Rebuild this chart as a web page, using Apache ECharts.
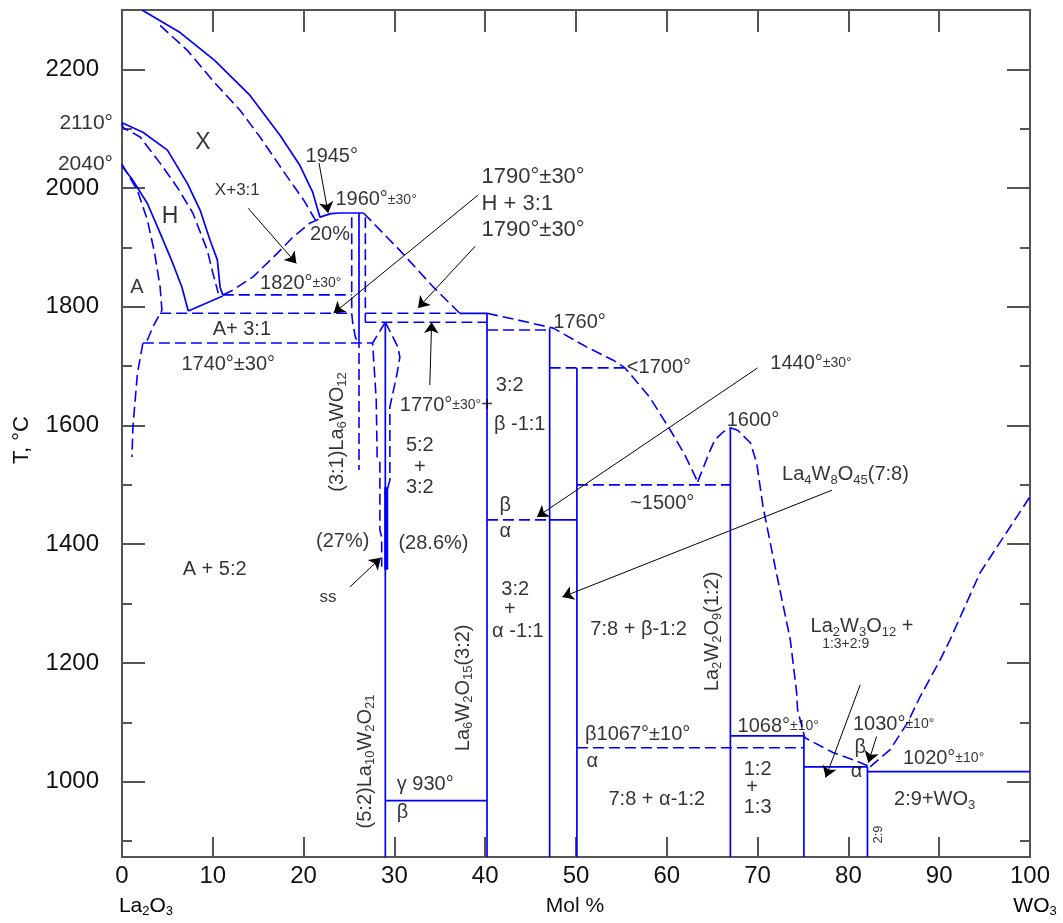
<!DOCTYPE html>
<html><head><meta charset="utf-8">
<script src="https://cdn.jsdelivr.net/npm/echarts@6/dist/echarts.min.js"></script>
<style>html,body{margin:0;padding:0;background:#fff}#c{width:1063px;height:923px}</style>
</head><body><div id="c"></div>
<script>
// ---------- axis ticks ----------
const xTicks = [0,10,20,30,40,50,60,70,80,90,100];
const yLabelTicks = [1000,1200,1400,1600,1800,2000,2200];
const yMinorTicks = [900,1100,1300,1500,1700,1900,2100];

// ---------- solid phase boundaries (mol % WO3, T °C) ----------
const xLiqSolid = [[2.2,2300],[6.4,2262],[10.2,2215],[14.1,2156],[17.4,2089],[19.6,2038],[21.0,1993],[21.8,1951],[23.0,1957],[24.0,1958],[26.6,1958]];
const hSolid2110 = [[0,2110],[0.1,2109],[2.3,2094],[5.0,2064],[7.2,2008],[8.6,1963],[9.7,1912],[10.5,1879],[10.8,1833],[11.1,1820]];
const hSolid2040 = [[0,2040],[0.1,2035],[1.2,2013],[2.8,1974],[4.2,1924],[5.6,1873],[6.6,1833],[7.3,1793]];
const hTie = [[7.3,1793],[11.1,1818]];
const c31Solid = [[26.1,1958],[26.1,1749]];
const c52Solid = [[29.0,1774],[29.0,873]];
const c32Solid = [[40.2,1789],[40.2,873]];
const line1790Solid = [[37.2,1789],[40.2,1789]];
const c11Solid = [[47.1,1764],[47.1,873]];
const c78Solid = [[50.1,1697],[50.1,873]];
const line1440Solid = [[47.1,1441],[50.1,1441]];
const line930 = [[29.0,968],[40.2,968]];
const c12Solid = [[67.0,1596],[67.0,873]];
const line1068 = [[67.0,1077],[75.1,1077]];
const c13Solid = [[75.1,1077],[75.1,873]];
const line1030 = [[75.1,1025],[82.1,1025]];
const c29Solid = [[82.1,1025],[82.1,873]];
const line1020 = [[82.1,1017],[100,1017]];
const ssThick = [[29.1,1496],[29.1,1357]];

// ---------- dashed phase boundaries ----------
const xLiqDashed = [[4.2,2274],[7.2,2232],[10.0,2181],[13.0,2131],[15.2,2086],[17.7,2030],[20.0,1980],[21.3,1946],[21.8,1951]];
const hDashed2110 = [[0,2110],[0.1,2102],[2.0,2086],[4.2,2042],[6.1,2001],[7.8,1958],[9.4,1895],[10.0,1857],[10.6,1823]];
const aDashed2040 = [[0,2040],[1.7,1996],[2.8,1946],[3.6,1890],[4.2,1833],[4.4,1794],[4.2,1789],[3.4,1766],[2.8,1744],[2.3,1739],[1.7,1688],[1.2,1597],[1.1,1547]];
const liq31Left = [[11.1,1820],[12.2,1828],[14.4,1850],[17.1,1890],[18.8,1917],[20.7,1941],[21.5,1946],[21.8,1951]];
const line1820 = [[11.1,1820],[25.3,1820]];
const line1790Left = [[4.2,1789],[25.3,1789]];
const line1740 = [[2.3,1739],[27.6,1739]];
const c31Lower = [[26.1,1749],[26.1,1525]];
const c31LeftBound = [[25.3,1951],[25.3,1789],[25.4,1774],[25.7,1749],[26.0,1739]];
const c31RightBound = [[26.8,1951],[26.8,1774]];
const line1790Right = [[26.8,1789],[37.2,1789]];
const line1770 = [[26.8,1774],[40.2,1774]];
const liq31Right = [[26.6,1958],[30.6,1895],[34.3,1833],[37.2,1789]];
const ss27 = [[29.0,1774],[27.6,1739],[28.0,1643],[28.1,1547],[28.4,1539],[28.4,1424],[28.6,1412],[28.6,1362]];
const ss52Right = [[29.0,1774],[29.8,1750],[30.4,1732],[30.6,1715],[30.3,1688],[29.5,1631],[29.5,1508],[29.2,1491]];
const liqMid = [[40.2,1789],[43.5,1778],[47.5,1764],[51.2,1732],[54.1,1710],[55.4,1697],[58.1,1648],[60.4,1592],[62.0,1550],[63.4,1505]];
const line1760 = [[40.2,1761],[47.1,1761]];
const line1700 = [[47.1,1697],[55.4,1697]];
const line1440Dashed = [[40.2,1441],[47.1,1441]];
const line1500 = [[50.1,1500],[67.0,1500]];
const liq12Left = [[63.4,1505],[64.8,1559],[65.3,1576],[66.2,1589],[67.0,1596]];
const liq12Right = [[67.0,1596],[67.8,1592],[69.2,1571],[69.9,1537],[70.6,1463],[71.7,1379],[73.6,1239],[74.3,1150],[74.4,1121],[75.2,1074],[78.3,1049],[80.5,1037],[82.4,1025]];
const line1067 = [[50.1,1057],[75.1,1057]];
const liqWO3 = [[82.4,1025],[82.7,1029],[84.6,1054],[86.5,1099],[87.9,1143],[90.1,1205],[91.2,1239],[94.5,1352],[100,1480]];

// ---------- arrows [x1,T1,x2,T2] ----------
const arrows = [
  [13.9,1966,19.2,1873],
  [21.7,2042,22.7,1958],
  [39.2,1988,23.3,1789],
  [38.9,1902,32.6,1798],
  [33.9,1668,34.1,1774],
  [70.0,1697,45.7,1446],
  [78.2,1491,48.5,1311],
  [25.1,1328,28.5,1377],
  [81.3,1163,77.5,1007],
  [83.1,1076,82.2,1032]
];

// ---------- text annotations [x, T, text] ----------
const labelsBig = [[8.9,2077,'X'],[5.3,1951,'H']];
const labelsMid = [
  [1.65,1833,'A'],[23.1,2054,'1945°'],[22.9,1922,'20%'],[13.2,1761,'A+ 3:1'],[11.7,1702,'1740°±30°'],
  [32.8,1567,'5:2'],[32.8,1530,'+'],[32.8,1495,'3:2'],
  [42.7,1668,'3:2'],[43.8,1601,'β -1:1'],[42.2,1466,'β'],[42.2,1421,'α'],
  [43.3,1323,'3:2'],[42.7,1290,'+'],[43.6,1253,'α -1:1'],
  [24.3,1404,'(27%)'],[34.3,1402,'(28.6%)'],[10.2,1357,'A + 5:2'],
  [59.5,1469,'~1500°'],[56.9,1256,'7:8 + β-1:2'],[81.5,1261,'La{sub|2}W{sub|3}O{sub|12} +'],
  [33.4,995,'γ 930°'],[30.9,948,'β'],[51.8,1034,'α'],[81.3,1057,'β'],[80.9,1017,'α'],
  [70.0,1020,'1:2'],[69.4,990,'+'],[70.0,956,'1:3'],[58.9,970,'7:8 + α-1:2'],[89.5,970,'2:9+WO{sub|3}']
];
const labelsSmall = [[12.7,1996,'X+3:1'],[22.7,1310,'ss']];
const labelsTiny = [[79.7,1231,'1:3+2:9']];
const labelsLeft = [
  [23.5,1980,'1960°{sm|±30°}'],[15.2,1840,'1820°{sm|±30°}'],
  [30.6,1634,'1770°{sm|±30°}+'],[47.5,1774,'1760°'],[55.6,1698,'<1700°'],
  [71.4,1705,'1440°{sm|±30°}'],[66.6,1609,'1600°'],[72.7,1517,'La{sub|4}W{sub|8}O{sub|45}(7:8)'],
  [51.0,1079,'β1067°±10°'],[67.8,1093,'1068°{sm|±10°}'],[80.5,1096,'1030°{sm|±10°}'],[86.0,1039,'1020°{sm|±10°}']
];
const labelsLeftBig = [[39.6,2018,'1790°±30°'],[39.6,1974,'H + 3:1'],[39.6,1929,'1790°±30°']];
const labelsVertical = [
  [23.7,1589,'(3:1)La{sub|6}WO{sub|12}'],
  [26.8,1034,'(5:2)La{sub|10}W{sub|2}O{sub|21}'],
  [37.6,1158,'La{sub|6}W{sub|2}O{sub|15}(3:2)'],
  [65.0,1253,'La{sub|2}W{sub|2}O{sub|9}(1:2)']
];
const labelsVerticalTiny = [[83.3,911,'2:9']];
const edgeLabels = [[0,2110,'2110°'],[0,2040,'2040°']];

// ---------- build chart ----------
const FONT = '"Liberation Sans", Arial, sans-serif';
const TXT = '#000';
const BLUE = '#0000ff';
const AX = '#555';
const rich = {
  sub: {fontSize: 13, lineHeight: 13, verticalAlign: 'bottom', fontFamily: FONT, color: TXT},
  sm: {fontSize: 14, lineHeight: 14, verticalAlign: 'middle', fontFamily: FONT, color: TXT}
};

const solidSet = [xLiqSolid,hSolid2110,hSolid2040,hTie,c31Solid,c52Solid,c32Solid,line1790Solid,c11Solid,c78Solid,line1440Solid,line930,c12Solid,line1068,c13Solid,line1030,c29Solid,line1020];
const dashedSet = [xLiqDashed,hDashed2110,aDashed2040,liq31Left,line1820,line1790Left,line1740,c31Lower,c31LeftBound,c31RightBound,line1790Right,line1770,liq31Right,ss27,ss52Right,liqMid,line1760,line1700,line1440Dashed,line1500,liq12Left,liq12Right,line1067,liqWO3];

function lineSeries(d, dashed, width) {
  return {type: 'line', data: d, showSymbol: false, symbol: 'none', silent: true, animation: false,
    xAxisIndex: 0, yAxisIndex: 0, z: 3,
    lineStyle: {color: BLUE, width: width, type: dashed ? [11, 5] : 'solid', cap: 'butt'}};
}
function labelSeries(items, o) {
  return {type: 'scatter', symbolSize: 0, silent: true, animation: false, z: 6,
    xAxisIndex: 0, yAxisIndex: 0, emphasis: {disabled: true},
    data: items.map(d => ({value: [d[0], d[1]], name: d[2]})),
    label: {show: true, formatter: p => p.name, position: o.position || 'inside', distance: o.distance || 0,
      rotate: o.rotate || 0, fontSize: o.size, lineHeight: o.lh || Math.round(o.size * 1.2),
      color: TXT, fontFamily: FONT, rich: rich}};
}

const series = [];
solidSet.forEach(d => series.push(lineSeries(d, false, 1.7)));
dashedSet.forEach(d => series.push(lineSeries(d, true, 1.6)));
series.push(lineSeries(ssThick, false, 4));
series.push({type: 'lines', coordinateSystem: 'cartesian2d', xAxisIndex: 0, yAxisIndex: 0, silent: true, animation: false, z: 5,
  symbol: ['none', 'arrow'], symbolSize: 11,
  lineStyle: {color: '#000', width: 1, opacity: 1},
  data: arrows.map(a => ({coords: [[a[0], a[1]], [a[2], a[3]]]}))});
series.push(labelSeries(labelsBig, {size: 23, lh: 26}));
series.push(labelSeries(labelsMid, {size: 20, lh: 24}));
series.push(labelSeries(labelsSmall, {size: 17, lh: 20}));
series.push(labelSeries(labelsTiny, {size: 14, lh: 16}));
series.push(labelSeries(labelsLeft, {size: 20, lh: 24, position: 'right'}));
series.push(labelSeries(labelsLeftBig, {size: 22, lh: 26, position: 'right'}));
series.push(labelSeries(labelsVertical, {size: 20, lh: 24, rotate: 90}));
series.push(labelSeries(labelsVerticalTiny, {size: 13, lh: 15, rotate: 90}));
series.push(labelSeries(edgeLabels, {size: 21, lh: 24, position: 'left', distance: 9}));

const axLine = {show: true, lineStyle: {color: AX, width: 2}};
function yAx(pos, ticks, len, labels) {
  return {type: 'value', min: 873, max: 2300, position: pos, offset: 0,
    axisLine: axLine,
    axisTick: {show: true, inside: true, length: len, customValues: ticks, lineStyle: {color: AX, width: 2}},
    axisLabel: labels ? {show: true, customValues: ticks, formatter: v => String(v), fontSize: 24, color: '#111', margin: 23, fontFamily: FONT} : {show: false},
    splitLine: {show: false}};
}

const option = {
  backgroundColor: '#fff',
  animation: false,
  grid: {left: 122, right: 33, top: 10, bottom: 66, containLabel: false},
  xAxis: [
    {type: 'value', min: 0, max: 100, interval: 10, position: 'bottom',
      axisLine: axLine,
      axisTick: {show: true, inside: true, length: 20, customValues: xTicks, lineStyle: {color: AX, width: 2}},
      axisLabel: {show: true, customValues: xTicks, formatter: v => String(v), fontSize: 24, color: '#111', margin: 7, fontFamily: FONT},
      splitLine: {show: false}},
    {type: 'value', min: 0, max: 100, interval: 10, position: 'top',
      axisLine: axLine,
      axisTick: {show: true, inside: true, length: 22, customValues: xTicks, lineStyle: {color: AX, width: 2}},
      axisLabel: {show: false}, splitLine: {show: false}}
  ],
  yAxis: [
    yAx('left', yLabelTicks, 23, true),
    yAx('left', yMinorTicks, 10, false),
    yAx('right', yLabelTicks, 23, false),
    yAx('right', yMinorTicks, 10, false)
  ],
  graphic: [
    {type: 'text', x: 22, y: 440, rotation: Math.PI / 2, style: {text: 'T, °C', font: '22px ' + FONT, fill: '#111', textAlign: 'center', textVerticalAlign: 'middle'}},
    {type: 'text', x: 146, y: 906, style: {text: '{a|La}{s|2}{a|O}{s|3}', textAlign: 'center', textVerticalAlign: 'middle',
      rich: {a: {fontSize: 21, lineHeight: 24, fontFamily: FONT, color: '#111'}, s: {fontSize: 13, lineHeight: 13, verticalAlign: 'bottom', fontFamily: FONT, color: '#111'}}}},
    {type: 'text', x: 575, y: 906, style: {text: 'Mol %', font: '21px ' + FONT, fill: '#111', textAlign: 'center', textVerticalAlign: 'middle'}},
    {type: 'text', x: 1035, y: 906, style: {text: '{a|WO}{s|3}', textAlign: 'center', textVerticalAlign: 'middle',
      rich: {a: {fontSize: 21, lineHeight: 24, fontFamily: FONT, color: '#111'}, s: {fontSize: 13, lineHeight: 13, verticalAlign: 'bottom', fontFamily: FONT, color: '#111'}}}}
  ],
  series: series
};
const chart = echarts.init(document.getElementById('c'), null, {renderer: 'canvas'});
chart.setOption(option);
</script></body></html>
